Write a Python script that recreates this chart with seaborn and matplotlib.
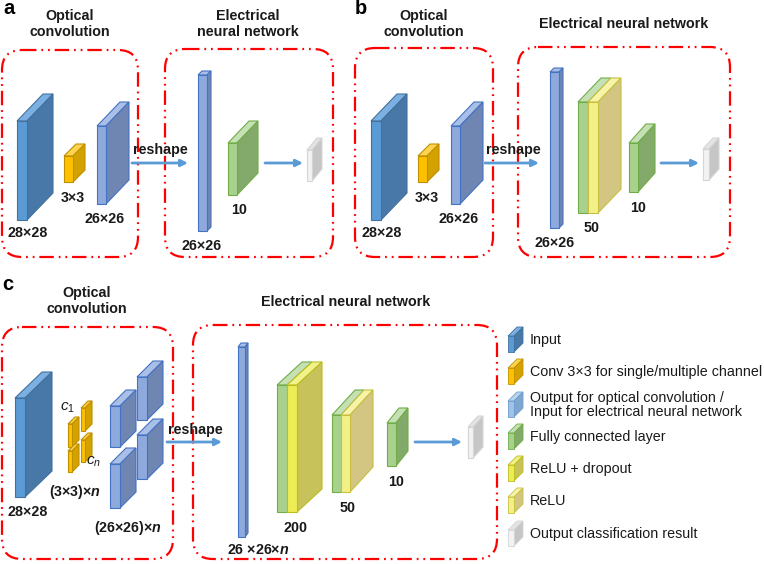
import numpy as np
import matplotlib
matplotlib.use("Agg")
import matplotlib.pyplot as plt
from matplotlib.patches import Polygon, FancyBboxPatch
import seaborn as sns

sns.set_theme(style="white")
plt.rcParams['font.family'] = ['Liberation Sans', 'DejaVu Sans']
plt.rcParams['mathtext.fontset'] = 'custom'
plt.rcParams['mathtext.rm'] = 'Liberation Sans'
plt.rcParams['mathtext.it'] = 'Liberation Sans:italic'
plt.rcParams['mathtext.bf'] = 'Liberation Sans:italic:bold'

# colour scheme per layer kind: face, side, top, edge
styles = {
    "input": ("#5B9BD5", "#4878A8", "#7DB0E2", "#41719C"),
    "conv":  ("#FFC000", "#D4A200", "#FFD34F", "#BF9000"),
    "out":   ("#8EA9DB", "#6F86B3", "#A9BFE6", "#4472C4"),
    "fc":    ("#A9D18E", "#83A96B", "#C5E0B4", "#70AD47"),
    "drop":  ("#ECEC55", "#C8C25A", "#F2F28A", "#BDBD20"),
    "relu":  ("#F4F088", "#D2C682", "#F7F4AA", "#C8C040"),
    "gray":  ("#F2F2F2", "#C6C6C6", "#E4E4E4", "#D5D5D5"),
    "legout": ("#9DC3E6", "#7FA6CF", "#B8D4EF", "#6F9BCB"),
}

# blocks: x, y (front top-left), width, height, depth dx, depth dy, kind
blocks_a = [(17, 121, 10, 99, 26, 27, "input"),
            (64, 156, 9, 26, 12, 12, "conv"),
            (97, 126, 9, 78, 23, 24, "out"),
            (198, 75, 9, 156, 4, 4, "out"),
            (228, 143, 9, 52, 21, 22, "fc"),
            (307, 150, 5, 31, 10, 12, "gray")]
blocks_b = [(371, 121, 10, 99, 26, 27, "input"),
            (418, 156, 9, 26, 12, 12, "conv"),
            (451, 126, 9, 78, 23, 24, "out"),
            (550, 72, 9, 156, 4, 4, "out"),
            (629, 143, 9, 49, 17, 19, "fc"),
            (703, 149, 6, 31, 10, 11, "gray")]
blocks_c = [(15, 398, 10, 99, 27, 26, "input"),
            (68, 424, 4, 23, 7, 7, "conv"),
            (68, 451, 4, 21, 7, 7, "conv"),
            (81, 408, 4, 23, 7, 7, "conv"),
            (81, 440, 4, 22, 7, 7, "conv"),
            (137, 377, 10, 43, 16, 16, "out"),
            (110, 406, 10, 41, 16, 16, "out"),
            (137, 435, 10, 44, 16, 16, "out"),
            (110, 464, 10, 44, 16, 16, "out"),
            (238, 347, 7, 190, 3, 4, "out"),
            (387, 423, 9, 43, 12, 15, "fc"),
            (468, 427, 5, 31, 10, 11, "gray")]
# green + yellow combined layers: x, y, width per part, height, dx, dy, yellow kind
combos = [(578, 102, 10, 111, 23, 24, "relu"),
          (277, 385, 10, 127, 25, 23, "drop"),
          (332, 415, 9, 77, 23, 25, "relu")]

arrows = [(132, 188, 163), (265, 303, 163),
          (485, 539, 163), (661, 699, 163),
          (167, 222, 442), (415, 462, 442)]

# dash-dot frames: x0, y0, x1, y1
frames = [(2, 50, 138, 257), (165, 49, 333, 257),
          (355, 48, 493, 257), (518, 47, 730, 257),
          (2, 327, 173, 559), (193, 325, 497, 559)]

bold_labels = [("28×28", 28, 233), ("3×3", 73, 198), ("26×26", 105, 219),
               ("reshape", 160, 150), ("26×26", 202, 246), ("10", 239, 210),
               ("28×28", 382, 233), ("3×3", 427, 198), ("26×26", 459, 219),
               ("reshape", 513, 150), ("26×26", 555, 243), ("50", 592, 228),
               ("10", 638, 208),
               ("28×28", 28, 512), (r"(3×3)×$\mathbf{n}$", 75, 492),
               (r"(26×26)×$\mathbf{n}$", 128, 528), ("reshape", 195, 430),
               (r"26 ×26×$\mathbf{n}$", 258, 550), ("200", 295, 528),
               ("50", 348, 508), ("10", 396, 482)]

titles = [("Optical\nconvolution", 70, 24), ("Electrical\nneural network", 248, 24),
          ("Optical\nconvolution", 424, 24), ("Electrical neural network", 624, 24),
          ("Optical\nconvolution", 87, 301), ("Electrical neural network", 346, 302)]

panel_letters = [("a", 9, 9), ("b", 361, 9), ("c", 8, 285)]

legend_kinds = ["input", "conv", "legout", "fc", "drop", "relu", "gray"]
legend_texts = ["Input", "Conv 3×3 for single/multiple channel",
                "Output for optical convolution /\nInput for electrical neural network",
                "Fully connected layer", "ReLU + dropout", "ReLU",
                "Output classification result"]
legend_rows = [340, 372, 405, 437, 469, 501, 534]


def draw_block(ax, x, y, w, h, dx, dy, kind, lw=0.8):
    face, side, top, edge = styles[kind]
    ax.add_patch(Polygon([(x, y), (x + dx, y - dy), (x + w + dx, y - dy), (x + w, y)],
                         closed=True, fc=top, ec=edge, lw=lw))
    ax.add_patch(Polygon([(x + w, y), (x + w + dx, y - dy), (x + w + dx, y + h - dy), (x + w, y + h)],
                         closed=True, fc=side, ec=edge, lw=lw))
    ax.add_patch(Polygon([(x, y), (x + w, y), (x + w, y + h), (x, y + h)],
                         closed=True, fc=face, ec=edge, lw=lw))


def draw_combo(ax, x, y, w, h, dx, dy, ykind):
    gf, gs, gt, ge = styles["fc"]
    yf, ys, yt, ye = styles[ykind]
    ax.add_patch(Polygon([(x, y), (x + dx, y - dy), (x + w + dx, y - dy), (x + w, y)],
                         closed=True, fc=gt, ec=ge, lw=0.8))
    x2 = x + w
    ax.add_patch(Polygon([(x2, y), (x2 + dx, y - dy), (x2 + w + dx, y - dy), (x2 + w, y)],
                         closed=True, fc=yt, ec=ye, lw=0.8))
    ax.add_patch(Polygon([(x2 + w, y), (x2 + w + dx, y - dy), (x2 + w + dx, y + h - dy), (x2 + w, y + h)],
                         closed=True, fc=ys, ec=ye, lw=0.8))
    ax.add_patch(Polygon([(x, y), (x + w, y), (x + w, y + h), (x, y + h)],
                         closed=True, fc=gf, ec=ge, lw=0.8))
    ax.add_patch(Polygon([(x2, y), (x2 + w, y), (x2 + w, y + h), (x2, y + h)],
                         closed=True, fc=yf, ec=ye, lw=0.8))


fig = plt.figure(figsize=(7.64, 5.64), dpi=100)
ax = fig.add_axes([0, 0, 1, 1])
ax.set_xlim(0, 764)
ax.set_ylim(564, 0)
ax.axis("off")

for x0, y0, x1, y1 in frames:
    ax.add_patch(FancyBboxPatch((x0, y0), x1 - x0, y1 - y0,
                                boxstyle="round,pad=0,rounding_size=20",
                                fill=False, ec="#FF0000", lw=1.6,
                                ls=(0, (6.5, 2.2, 0.8, 2.2, 0.8, 2.2))))

for b in blocks_a + blocks_b + blocks_c:
    draw_block(ax, *b)
for c in combos:
    draw_combo(ax, *c)

for x0, x1, y in arrows:
    ax.annotate("", xy=(x1, y), xytext=(x0, y),
                arrowprops=dict(arrowstyle="-|>", color="#5B9BD5", lw=2,
                                mutation_scale=10, shrinkA=0, shrinkB=0))

for txt, x, y in bold_labels:
    ax.text(x, y, txt, ha="center", va="center", fontsize=10.3,
            fontweight="bold", color="#1a1a1a")

for txt, x, y in titles:
    ax.text(x, y, txt, ha="center", va="center", fontsize=10.3,
            fontweight="bold", color="#1a1a1a", linespacing=1.15)

for txt, x, y in panel_letters:
    ax.text(x, y, txt, ha="center", va="center", fontsize=14.5,
            fontweight="bold", color="black")

ax.text(68, 408, r"$c_1$", ha="center", va="center", fontsize=11, color="#1a1a1a")
ax.text(94, 462, r"$c_n$", ha="center", va="center", fontsize=11, color="#1a1a1a")

for kind, txt, yc in zip(legend_kinds, legend_texts, legend_rows):
    draw_block(ax, 508, yc - 4, 6, 16, 9, 9, kind, lw=0.6)
    ax.text(530, yc, txt, ha="left", va="center", fontsize=10.3,
            color="#1a1a1a", linespacing=1.05)

fig.savefig("out.png", dpi=100)
